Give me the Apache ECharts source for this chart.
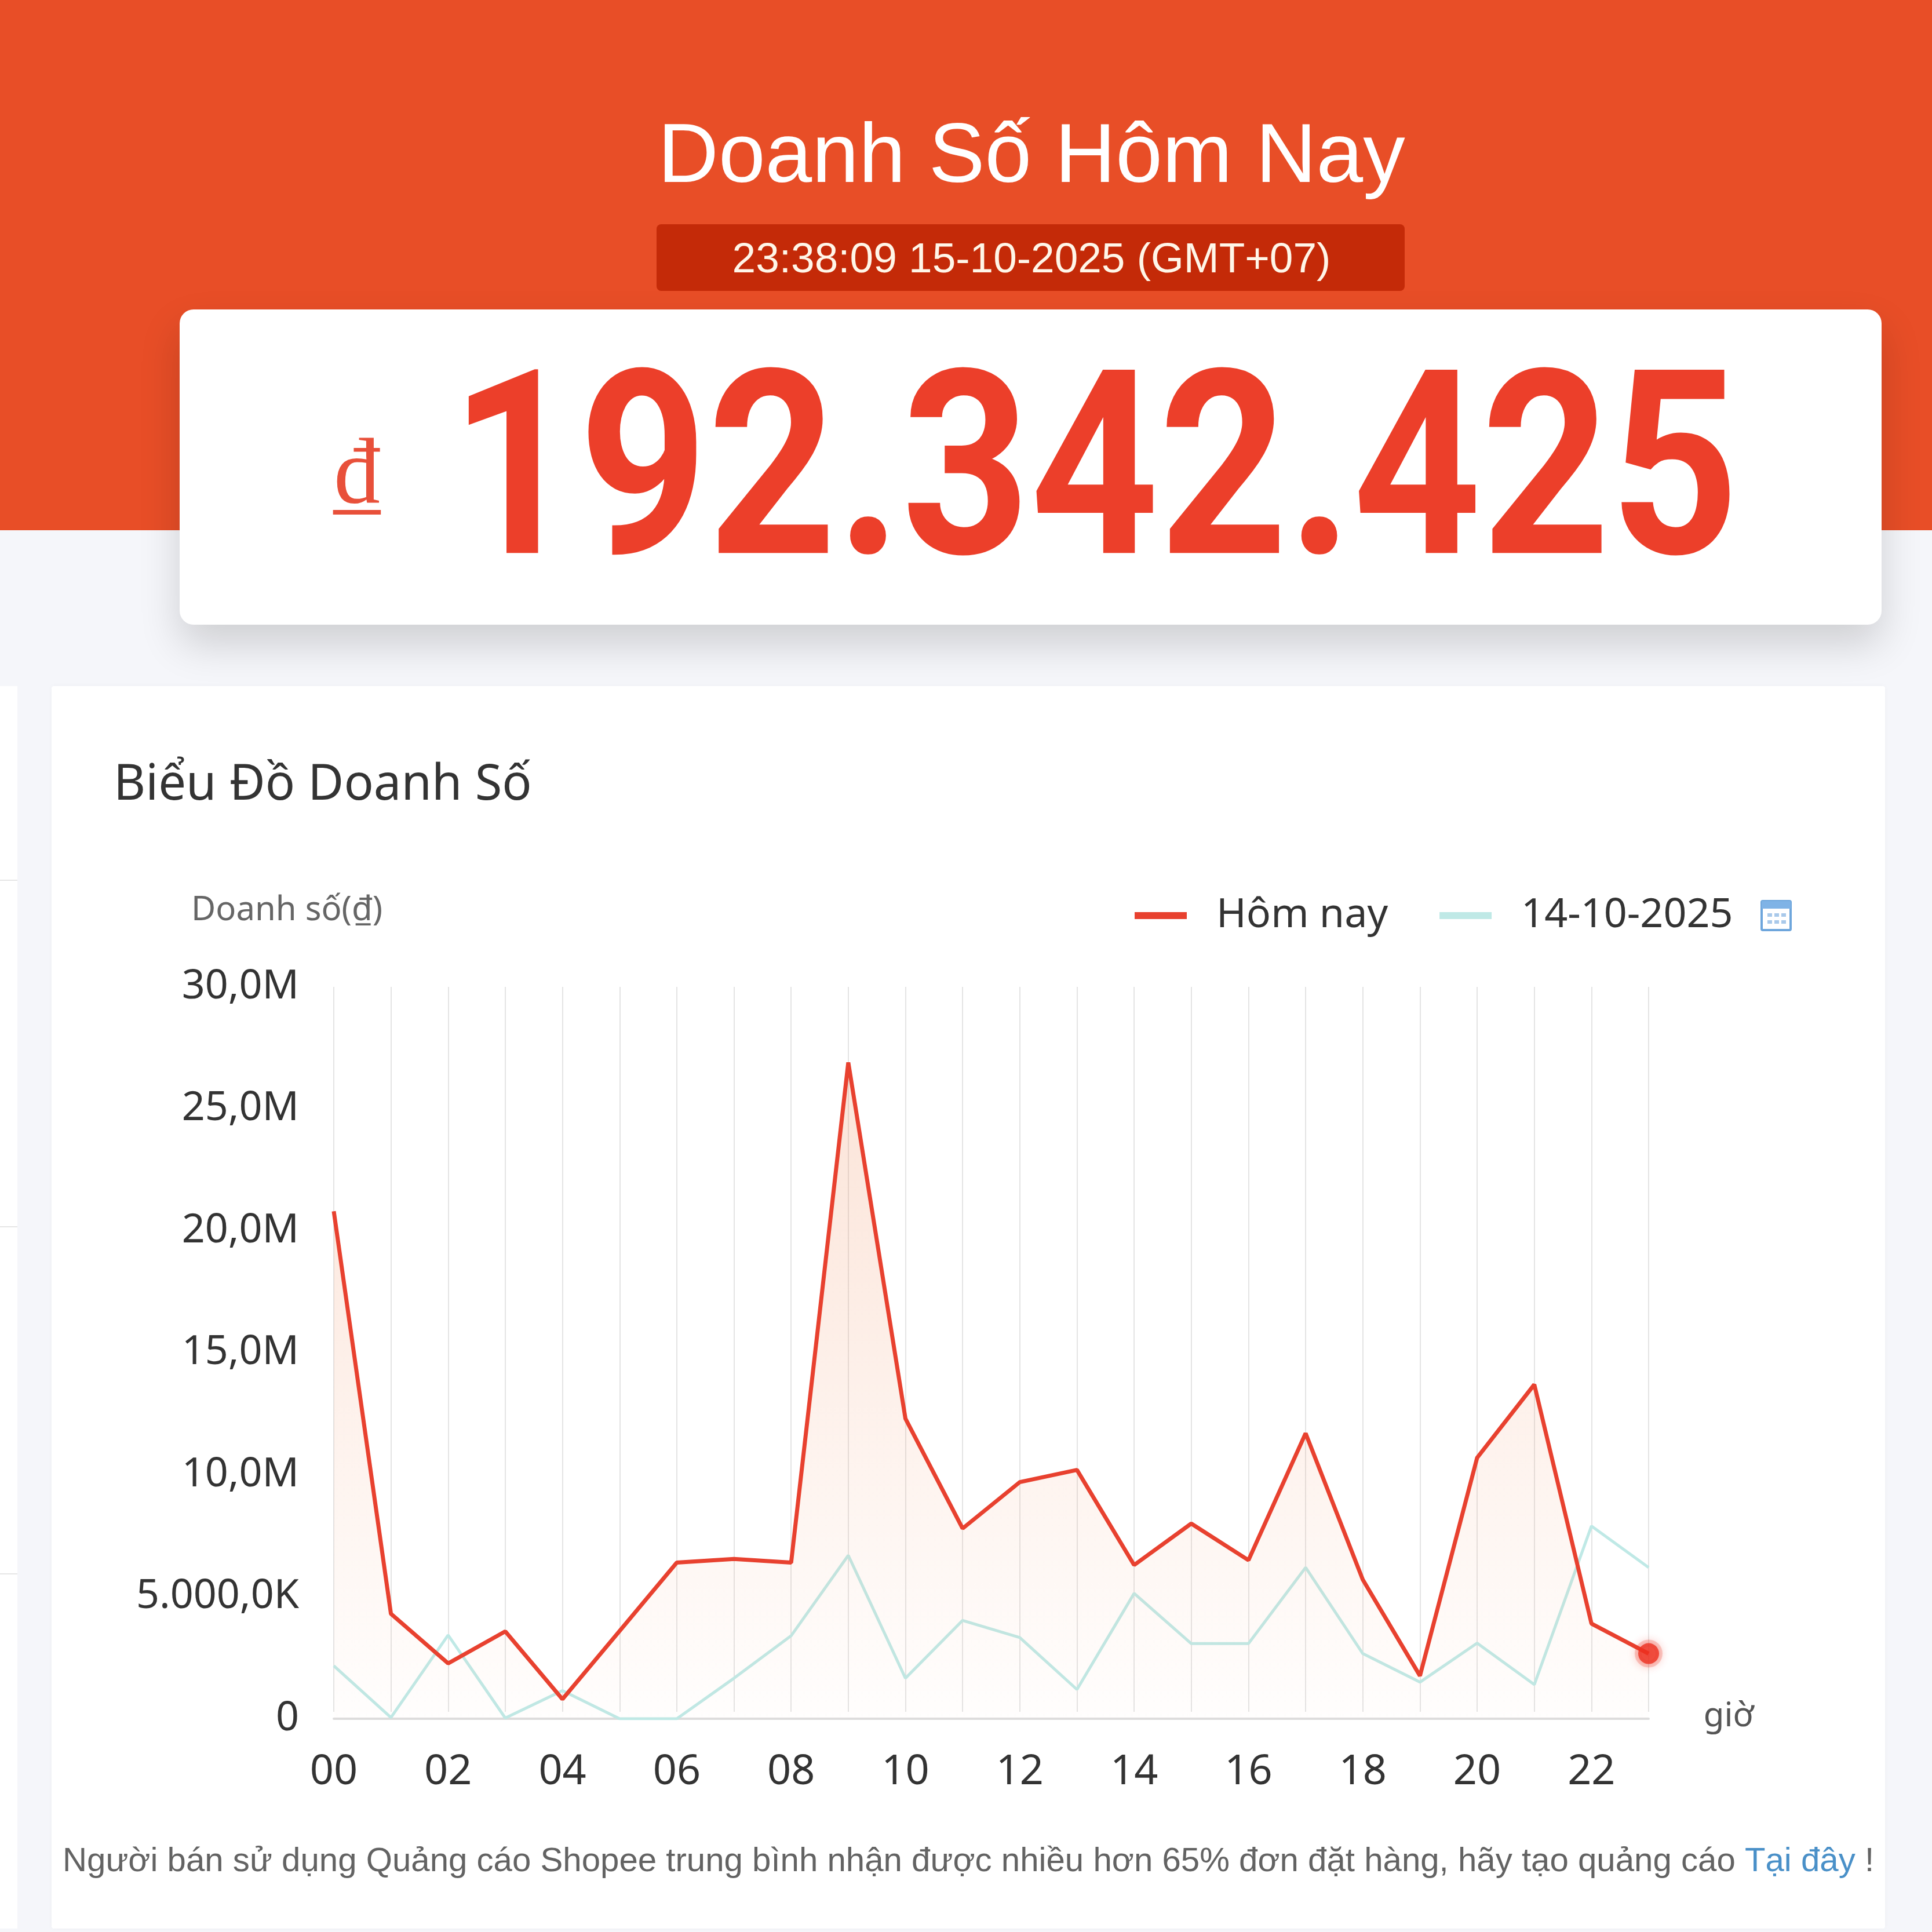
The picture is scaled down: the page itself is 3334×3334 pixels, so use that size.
<!DOCTYPE html>
<html><head><meta charset="utf-8">
<style>html,body{margin:0;padding:0;background:#f5f6fa}#c{width:3334px;height:3334px}</style>
<script src="https://cdn.jsdelivr.net/npm/echarts@6/dist/echarts.min.js"></script>
</head><body><div id="c"></div>
<script>
const hours = ['00','01','02','03','04','05','06','07','08','09','10','11','12','13','14','15','16','17','18','19','20','21','22','23'];
const today = [20800000,4300000,2270000,3580000,800000,3600000,6400000,6550000,6400000,26900000,12300000,7800000,9700000,10200000,6300000,8000000,6500000,11700000,5700000,1760000,10700000,13700000,3900000,2670000];
const yesterday = [2170000,50000,3430000,30000,1150000,0,0,1660000,3400000,6700000,1660000,4030000,3330000,1200000,5140000,3080000,3080000,6200000,2670000,1500000,3100000,1400000,7900000,6200000];
const yTickLabels = ['0','5.000,0K','10,0M','15,0M','20,0M','25,0M','30,0M'];
const seriesNames = ['Hôm nay','14-10-2025'];
const headline = 'Doanh Số Hôm Nay';
const stamp = '23:38:09 15-10-2025 (GMT+07)';
const total = '192.342.425';

const RED='#e8412f', TEAL='#bfe9e6', F='"Noto Sans"', A='"Liberation Sans"';
const txt=(text,x,y,font,fill,align,extra)=>Object.assign({type:'text',z:5,style:{text,x,y,font,fill,align:align||'left',verticalAlign:'middle'}},extra||{});
const rect=(x,y,w,h,fill,z,r,extra)=>({type:'rect',z:z,shape:{x,y,width:w,height:h,r:r||0},style:Object.assign({fill},extra||{})});

const calendar=[
  rect(3040,1555,50,50,'#ffffff',3,2,{stroke:'#6ea6dc',lineWidth:4}),
  rect(3040,1555,50,13,'#7fb3e6',4,1),
  rect(3050,1576,8,6,'#a9c9ea',4),rect(3062,1576,8,6,'#a9c9ea',4),rect(3074,1576,8,6,'#a9c9ea',4),
  rect(3050,1588,8,6,'#a9c9ea',4),rect(3062,1588,8,6,'#a9c9ea',4),rect(3074,1588,8,6,'#a9c9ea',4)
];

const chart=echarts.init(document.getElementById('c'),null,{renderer:'canvas'});
chart.setOption({
  animation:false,
  backgroundColor:'#f5f6fa',
  graphic:{elements:[
    rect(0,0,3334,915,'#e84e27',-20),
    rect(1133,387,1291,115,'#c42a08',-10,8),
    rect(310,534,2937,544,'#ffffff',-10,24,{shadowBlur:70,shadowOffsetY:34,shadowColor:'rgba(0,0,0,0.16)'}),
    rect(89,1184,3164,2144,'#ffffff',-10,4,{shadowBlur:10,shadowColor:'rgba(0,0,0,0.03)'}),
    rect(0,1184,30,2144,'#ffffff',-10),
    rect(0,1518,30,2,'#e6e6e6',-9),rect(0,2116,30,2,'#e6e6e6',-9),rect(0,2715,30,2,'#e6e6e6',-9),
    txt(headline,1780,274,'400 145px '+A,'#ffffff','center'),
    txt(stamp,1780,450,'400 73px '+A,'#fff6e8','center'),
    txt('₫',616,825,'400 160px "Liberation Serif"','#e8503a','center'),
    txt(total,0,0,'700 445px Roboto','#ec3f2a','left',{x:777,y:843,scaleX:0.87}),
    txt('Biểu Đồ Doanh Số',196,1356,'400 85px '+F,'#333333'),
    txt('Doanh số(₫)',330,1571,'400 58px '+F,'#666666'),
    txt('giờ',2983,2962,'400 58px '+F,'#555555','center'),
    {type:'text',z:5,style:{x:108,y:3213,verticalAlign:'middle',
      text:'{a|Người bán sử dụng Quảng cáo Shopee trung bình nhận được nhiều hơn 65% đơn đặt hàng, hãy tạo quảng cáo }{b|Tại đây}{a| !}',
      rich:{a:{font:'400 58.2px '+A,fill:'#636363'},b:{font:'400 58.2px '+A,fill:'#4a90c8'}}}}
  ].concat(calendar)},
  legend:{
    left:1953,top:1540,icon:'rect',itemWidth:90,itemHeight:12,itemGap:89,
    data:seriesNames,
    textStyle:{fontFamily:F,fontSize:70,color:'#333333',padding:[0,0,0,46]}
  },
  grid:[
    {left:576,top:1703,width:2269,height:1263},
    {left:576,top:1703,width:2269,height:1251}
  ],
  xAxis:[
    {type:'category',gridIndex:0,data:hours,boundaryGap:false,
     axisLine:{show:true,lineStyle:{color:'#dddddd',width:4}},axisTick:{show:false},
     axisLabel:{interval:1,margin:56,color:'#333333',fontFamily:F,fontSize:72},
     splitLine:{show:false}},
    {type:'category',gridIndex:1,data:hours,boundaryGap:false,
     axisLine:{show:false},axisTick:{show:false},axisLabel:{show:false},
     splitLine:{show:true,interval:0,lineStyle:{color:'#e4e4e4',width:2}}}
  ],
  yAxis:[
    {type:'value',gridIndex:0,min:0,max:30000000,interval:5000000,
     axisLine:{show:false},axisTick:{show:false},splitLine:{show:false},
     axisLabel:{margin:60,color:'#333333',fontFamily:F,fontSize:70,padding:[0,0,22,0],
       formatter:(v)=>yTickLabels[Math.round(v/5000000)]}},
    {type:'value',gridIndex:1,min:0,max:30000000,interval:5000000,show:false,splitLine:{show:false}}
  ],
  series:[
    {name:seriesNames[0],type:'line',data:today,showSymbol:false,symbol:'none',z:4,
     lineStyle:{color:RED,width:7},itemStyle:{color:RED},
     areaStyle:{color:{type:'linear',x:0,y:0,x2:0,y2:1,colorStops:[{offset:0,color:'rgba(240,140,90,0.34)'},{offset:1,color:'rgba(240,140,90,0.02)'}]}}},
    {name:seriesNames[1],type:'line',data:yesterday,showSymbol:false,symbol:'none',z:3,
     lineStyle:{color:TEAL,width:5},itemStyle:{color:TEAL}},
    {type:'scatter',data:[[hours[hours.length-1],today[today.length-1]]],symbolSize:36,z:6,
     itemStyle:{color:'#ee2f1f',borderColor:'rgba(238,53,36,0.28)',borderWidth:12,shadowBlur:16,shadowColor:'rgba(238,53,36,0.45)'}}
  ]
});
</script></body></html>
